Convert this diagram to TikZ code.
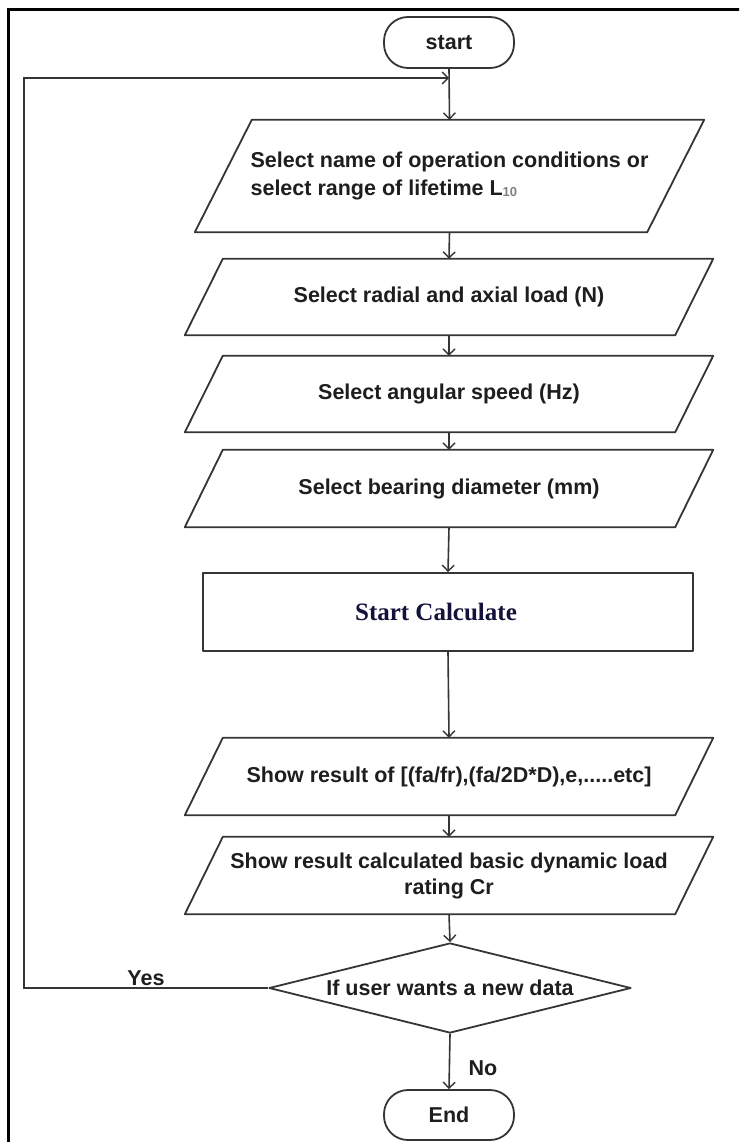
\documentclass[tikz,border=0pt]{standalone}
\usepackage{fontspec}
\setmainfont{Liberation Sans}
\newfontfamily\timesf{Liberation Serif}
\usetikzlibrary{arrows.meta,calc,shapes.geometric}
\definecolor{ln}{HTML}{353535}
\definecolor{tx}{HTML}{1E1E1E}
\definecolor{navy}{HTML}{12123A}
\begin{document}
\begin{tikzpicture}[x=1pt,y=-1pt,
  lbl/.style={font=\bfseries\fontsize{21.5}{28}\selectfont, text=tx},
  pbox/.style={lbl, inner sep=0pt, align=center},
  shp/.style={draw=ln, line width=1.8pt, line join=round},
  conn/.style={draw=ln, line width=1.6pt, -{Straight Barb[length=6pt,width=12pt,line width=1.4pt]}},
  term/.style={lbl, shp, rounded corners=24pt, minimum width=130pt, inner sep=0pt}]
\useasboundingbox (0,0) rectangle (739,1142);
\clip (0,0) rectangle (739,1142);
\fill[white] (0,0) rectangle (739,1142);
% outer frame (cut at right and bottom)
\draw[black, line width=3pt] (8,1200) -- (8,10) -- (800,10);

% terminals
\node[term, minimum height=51pt] (start) at (449,42.5) {start};
\node[term, minimum height=50pt] (end) at (449,1115) {End};

% parallelograms
\node[pbox, align=left, minimum width=452pt, minimum height=112pt] (p1) at (449.5,176)
  {Select name of operation conditions or\\select range of lifetime L{\fontsize{13}{13}\selectfont\color{gray}\raisebox{-1pt}{10}}};
\draw[shp] ([xshift=28.5pt]p1.north west) -- ([xshift=28.5pt]p1.north east) -- ([xshift=-28.5pt]p1.south east) -- ([xshift=-28.5pt]p1.south west) -- cycle;

\node[pbox, minimum width=490pt, minimum height=76pt] (p2) at (449,297) {Select radial and axial load (N)};
\node[pbox, minimum width=490pt, minimum height=76pt] (p3) at (449,394) {Select angular speed (Hz)};
\node[pbox, minimum width=490pt, minimum height=77pt] (p4) at (449,488.5) {Select bearing diameter (mm)};
\node[pbox, minimum width=490pt, minimum height=77pt] (p5) at (449,776.5) {Show result of [(fa/fr),(fa/2D*D),e,.....etc]};
\node[pbox, minimum width=490pt, minimum height=77pt, font=\bfseries\fontsize{21.5}{26}\selectfont] (p6) at (449,875.5) {Show result calculated basic dynamic load\\rating Cr};
\foreach \p in {p2,p3,p4,p5,p6}{
  \draw[shp] ([xshift=19pt]\p.north west) -- ([xshift=19pt]\p.north east) -- ([xshift=-19pt]\p.south east) -- ([xshift=-19pt]\p.south west) -- cycle;
}

% process box
\node[shp, minimum width=490pt, minimum height=78pt, inner sep=0pt,
      font=\timesf\bfseries\fontsize{25}{28}\selectfont, text=navy] (calc) at (448,612) {\hspace*{-24pt}Start Calculate};

% decision
\node[lbl, shp, shape=diamond, aspect=4, inner sep=0pt, minimum width=362pt, minimum height=90pt] (dec) at (450,988) {If user wants a new data};

% connectors
\coordinate (j) at (449,78);
\coordinate (c1) at (24,988);
\coordinate (c2) at (24,78);
\draw[conn] (start.south) -- (p1.north);
\draw[conn] (p1.south) -- (p2.north);
\draw[conn] (p2.south) -- (p3.north);
\draw[conn] (p3.south) -- (p4.north);
\draw[conn] (p4.south) -- (calc.north);
\draw[conn] (calc.south) -- (p5.north);
\draw[conn] (p5.south) -- (p6.north);
\draw[conn] (p6.south) -- (dec.north);
\draw[conn] (dec.south) -- (end.north);
\draw[conn] (dec.west) -- (c1) -- (c2) -- (j);

% labels
\node[lbl] (yes) at (146,978) {Yes};
\node[lbl] (no) at (483,1068) {No};
\end{tikzpicture}
\end{document}
